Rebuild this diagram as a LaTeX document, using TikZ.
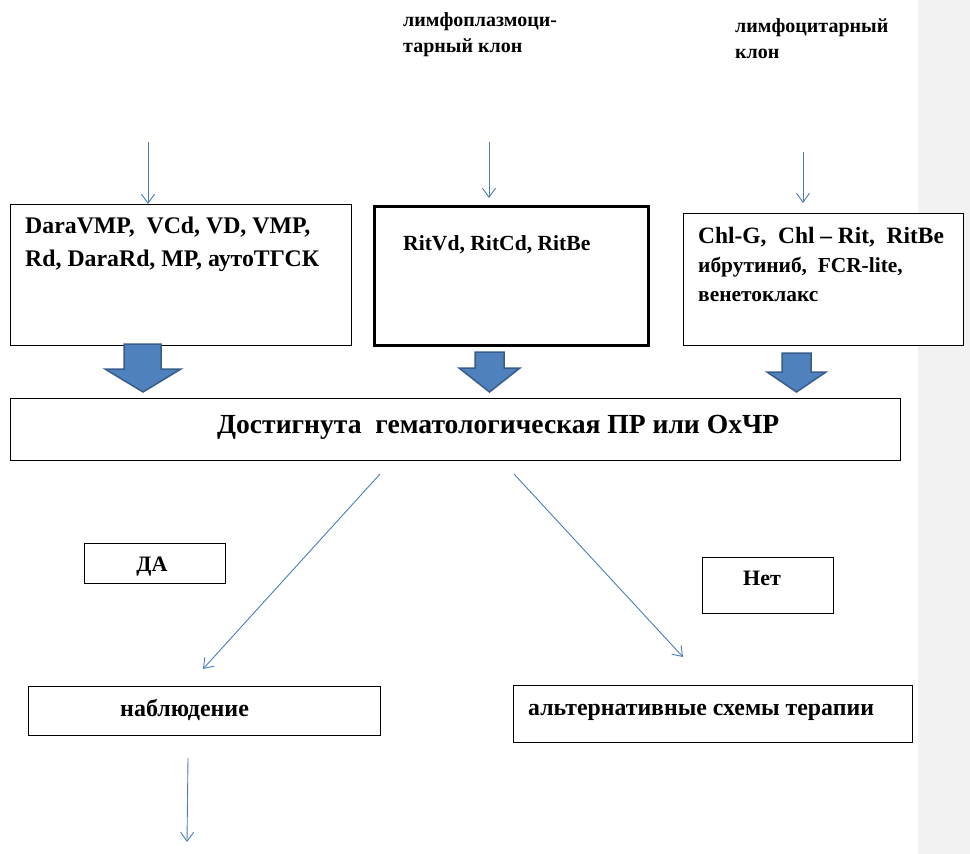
\documentclass[tikz,border=0pt]{standalone}
\usepackage{fontspec}
\setmainfont{Liberation Serif}
\usetikzlibrary{arrows.meta}
\definecolor{lineblue}{HTML}{4A7EBB}
\definecolor{fillblue}{HTML}{4F81BD}
\definecolor{edgeblue}{HTML}{385D8A}
\definecolor{stripgrey}{HTML}{F2F2F2}
\begin{document}
\begin{tikzpicture}[x=1pt,y=-1pt,
  box/.style={draw=black, line width=1pt, fill=white, rectangle, inner sep=0pt, anchor=north west},
  txt/.style={anchor=base west, inner sep=0pt, font=\bfseries\fontsize{#1}{#1}\selectfont},
  ctxt/.style={anchor=base, inner sep=0pt, font=\bfseries\fontsize{#1}{#1}\selectfont},
  thinarrow/.style={draw=lineblue, line width=0.9pt, -{Straight Barb[length=9pt,width=13pt]}},
  fatarrow/.style={fill=fillblue, draw=edgeblue, line width=1.5pt, line join=miter}
]
\useasboundingbox (0,0) rectangle (970,854);
\fill[stripgrey] (918,0) rectangle (970,854);

% top labels
\node[txt=20] (l1a) at (403,26) {лимфоплазмоци-};
\node[txt=20] (l1b) at (403,52) {тарный клон};
\node[txt=20] (l2a) at (735,32) {лимфоцитарный};
\node[txt=20] (l2b) at (735,58) {клон};

% boxes
\node[box, minimum width=341pt, minimum height=141pt] (b1) at (10,204) {};
\node[box, line width=3pt, minimum width=274pt, minimum height=139pt] (b2) at (373,205) {};
\node[box, minimum width=280pt, minimum height=132pt] (b3) at (683,213) {};
\node[box, minimum width=890pt, minimum height=62pt] (main) at (10,398) {};
\node[box, minimum width=141pt, minimum height=40pt] (yes) at (84,543) {};
\node[box, minimum width=131pt, minimum height=56pt] (no) at (702,557) {};
\node[box, minimum width=352pt, minimum height=49pt] (obs) at (28,686) {};
\node[box, minimum width=399pt, minimum height=57pt] (alt) at (513,685) {};

% box texts
\node[txt=23.8] (t1a) at (25,233) {DaraVMP,\ \ VCd, VD, VMP,};
\node[txt=23.8] (t1b) at (25,266) {Rd, DaraRd, MP, аутоТГСК};
\node[txt=21.6] (t2) at (403,250) {RitVd, RitCd, RitBe};
\node[txt=23.4] (t3a) at (698,243) {Chl-G,\ \ Chl – Rit,\ \ RitBe};
\node[txt=21.4] (t3b) at (698,272) {ибрутиниб,\ \ FCR-lite,};
\node[txt=21.4] (t3c) at (698,301) {венетоклакс};
\node[txt=27.6] (tm) at (217,433) {Достигнута\ \ гематологическая ПР или ОхЧР};
\node[ctxt=22] (tyes) at (152,571) {ДА};
\node[txt=22] (tno) at (743,585) {Нет};
\node[txt=24] (tobs) at (120,716) {наблюдение};
\node[txt=23.8] (talt) at (528,715) {альтернативные схемы терапии};

% fat arrows
\draw[fatarrow] (124,344) -- (161,344) -- (161,369) -- (181,369) -- (143,392) -- (105,369) -- (124,369) -- cycle;
\draw[fatarrow] (475,352) -- (504,352) -- (504,368) -- (520,368) -- (489.5,392) -- (459,368) -- (475,368) -- cycle;
\draw[fatarrow] (782,353) -- (811,353) -- (811,372) -- (826,372) -- (796.5,392) -- (767,372) -- (782,372) -- cycle;

% thin arrows
\coordinate (a1s) at (148,142);
\coordinate (a2s) at (489,142);
\coordinate (a3s) at (803,152);
\draw[thinarrow] (a1s) -- (a1s |- b1.north);
\draw[thinarrow, shorten >=7pt] (a2s) -- (a2s |- b2.north);
\draw[thinarrow, shorten >=10pt] (a3s) -- (a3s |- b3.north);

\coordinate (d1s) at (380,474);
\coordinate (d1e) at (203,669);
\coordinate (d2s) at (514,474);
\coordinate (d2e) at (683,657);
\draw[thinarrow] (d1s) -- (d1e);
\draw[thinarrow] (d2s) -- (d2e);

\coordinate (os) at (188,758);
\coordinate (oe) at (187,842);
\draw[thinarrow] (os) -- (oe);
\end{tikzpicture}
\end{document}
